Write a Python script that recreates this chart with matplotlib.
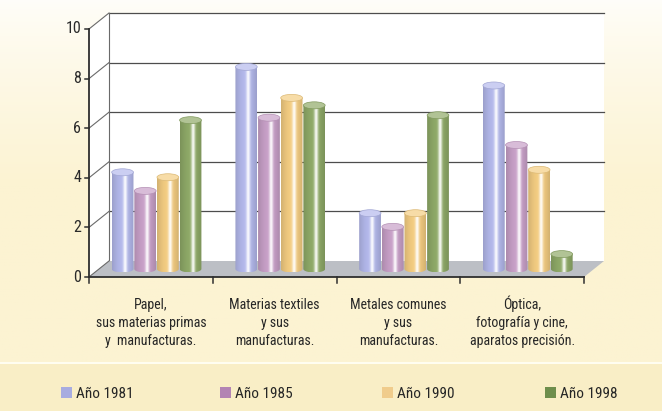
import numpy as np
import matplotlib
matplotlib.use("Agg")
import matplotlib.pyplot as plt
from matplotlib.patches import Ellipse, PathPatch, Polygon, Rectangle
from matplotlib.path import Path
from matplotlib.colors import to_rgb

plt.rcParams['font.family'] = ['Roboto Condensed', 'DejaVu Sans Condensed',
                               'Liberation Sans Narrow', 'Liberation Sans', 'DejaVu Sans']

# datos
categorias = ["Papel,\nsus materias primas\ny  manufacturas.",
              "Materias textiles\ny sus\nmanufacturas.",
              "Metales comunes\ny sus\nmanufacturas.",
              "Óptica,\nfotografía y cine,\naparatos precisión."]
series = ["Año 1981", "Año 1985", "Año 1990", "Año 1998"]
v1981 = [3.9, 8.15, 2.25, 7.4]
v1985 = [3.15, 6.1, 1.7, 5.0]
v1990 = [3.7, 6.9, 2.25, 4.0]
v1998 = [6.0, 6.6, 6.2, 0.6]
valores = [v1981, v1985, v1990, v1998]
yticks = [0, 2, 4, 6, 8, 10]

col_barra = ["#b4b9ec", "#c8a0c8", "#f4cd82", "#8faa68"]
col_leyenda = ["#a8ace0", "#b384b3", "#f0cc8c", "#6e8e4c"]

W, H = 662, 411
fig = plt.figure(figsize=(W / 100, H / 100), dpi=100)
fig.patch.set_facecolor("#fcf3d2")

# fondo: degradado claro arriba, franja de leyenda abajo
bg = fig.add_axes([0, 0, 1, 1], zorder=-10)
bg.set_xlim(0, 1)
bg.set_ylim(0, 1)
bg.axis("off")
g = np.linspace(0, 1, 256)[:, None]
top_c = np.array(to_rgb("#fffefa"))
bot_c = np.array(to_rgb("#fcf3d2"))
mix = np.clip(g / 0.45, 0, 1) ** 0.8
grad = top_c[None, None, :] * (1 - mix[..., None]) + bot_c[None, None, :] * mix[..., None]
bg.imshow(np.repeat(grad, 4, axis=1), extent=(0, 1, 0, 1), aspect="auto", origin="upper")
bg.add_patch(Rectangle((0, 0), 1, (H - 364) / H, color="#f9eec6", lw=0))
bg.add_patch(Rectangle((0, (H - 364) / H), 1, 2.5 / H, color="#fffdf0", lw=0))

# ejes principales (plano medio de profundidad)
px_x, px_y = 123.75, 24.8
x0, x1, y0, y1 = -0.75, 3.75, -1.0, 10.8
left_px = 99 + (x0 + 0.5) * px_x
zero_px = 269
ax = fig.add_axes([left_px / W, (H - (zero_px - y0 * px_y)) / H,
                   (x1 - x0) * px_x / W, (y1 - y0) * px_y / H])
PX, PY = 1 / px_x, 1 / px_y
DX, DY = 10 * PX, 8 * PY
ncat = len(categorias)
xa, xb = -0.5, ncat - 0.5

# pared del fondo, pared izquierda y suelo
ax.add_patch(Polygon([(xa + DX, DY), (xb + DX, DY), (xb + DX, 10 + DY), (xa + DX, 10 + DY)],
                     facecolor="white", edgecolor="none", zorder=1))
ax.add_patch(Polygon([(xa - DX, -DY), (xa + DX, DY), (xa + DX, 10 + DY), (xa - DX, 10 - DY)],
                     facecolor="white", edgecolor="none", zorder=1))
ax.add_patch(Polygon([(xa - DX, -DY), (xb - DX, -DY), (xb + DX, DY), (xa + DX, DY)],
                     facecolor="#bcbfc5", edgecolor="none", zorder=2))
for v in yticks[1:]:
    ax.plot([xa + DX, xb + DX], [v + DY, v + DY], color="#4d4d4d", lw=0.9, zorder=1.5)
    ax.plot([xa - DX, xa + DX], [v - DY, v + DY], color="#6a6a6a", lw=0.8, zorder=1.5)
ax.plot([xa + DX, xa + DX], [DY, 10 + DY], color="#6a6a6a", lw=0.8, zorder=1.5)
ax.plot([xa - DX, xa + DX], [-DY, DY], color="#6a6a6a", lw=0.8, zorder=2.5)

# eje frontal
ax.plot([xa - DX, xa - DX], [-DY, 10 - DY], color="#2e2e2e", lw=1.3, zorder=6)
ax.plot([xa - DX, xb - DX], [-DY, -DY], color="#2e2e2e", lw=1.3, zorder=6)
for v in yticks:
    ax.plot([xa - DX - 4 * PX, xa - DX], [v - DY, v - DY], color="#2e2e2e", lw=1.1, zorder=6)
    ax.text(xa - DX - 8 * PX, v - DY, str(v), ha="right", va="center",
            fontsize=11.5, color="#2a2a2a")
for k in range(ncat + 1):
    xt = xa + k - DX
    ax.plot([xt, xt], [-DY, -DY - 6 * PY], color="#2e2e2e", lw=1.1, zorder=6)
# etiquetas de categoría, una línea cada vez para alinear las líneas base
for i, cat in enumerate(categorias):
    for n, linea in enumerate(cat.split("\n")):
        ax.text(i - DX, -DY - (32 + 18 * n) * PY, linea, ha="center", va="baseline",
                fontsize=10, color="#262626")

# cilindros
paso, ancho, desp = 0.183, 0.176, -0.035
eb = 3.5 * PY   # semieje vertical de la elipse
t = np.linspace(0, 1, 200)
sombra = 0.86 + 0.14 * np.sin(np.pi * t)
brillo = 0.92 * np.exp(-((t - 0.6) / 0.09) ** 2)
ang = np.linspace(np.pi, 2 * np.pi, 40)
for j, vals in enumerate(valores):
    base = np.array(to_rgb(col_barra[j]))
    fila = base[None, :] * sombra[:, None]
    fila = fila * (1 - brillo[:, None]) + brillo[:, None]
    img = np.clip(fila, 0, 1)[None, :, :]
    for i, h in enumerate(vals):
        xc = i + (j - 1.5) * paso + desp
        a = ancho / 2
        verts = [(xc - a, h), (xc - a, 0)]
        verts += list(zip(xc + a * np.cos(ang), eb * np.sin(ang)))
        verts += [(xc + a, 0), (xc + a, h), (xc - a, h)]
        codes = [Path.MOVETO] + [Path.LINETO] * (len(verts) - 2) + [Path.CLOSEPOLY]
        clip = PathPatch(Path(verts, codes), transform=ax.transData,
                         facecolor="none", edgecolor="none")
        ax.add_patch(clip)
        im = ax.imshow(img, extent=(xc - a, xc + a, -eb, h), aspect="auto",
                       zorder=4, interpolation="bilinear")
        im.set_clip_path(clip)
        tapa = base * 0.7 + 0.3
        ax.add_patch(Ellipse((xc, h), ancho, 2 * eb, facecolor=tapa,
                             edgecolor=base * 0.9, lw=0.5, zorder=4.5))

ax.set_xlim(x0, x1)
ax.set_ylim(y0, y1)
ax.axis("off")

# leyenda
ley_x = [61, 220, 382, 545]
for j, nombre in enumerate(series):
    fig.add_artist(Rectangle((ley_x[j] / W, (H - 398) / H), 11 / W, 11 / H,
                             transform=fig.transFigure, facecolor=col_leyenda[j],
                             edgecolor="none"))
    fig.text((ley_x[j] + 15) / W, (H - 398) / H, nombre, ha="left", va="baseline",
             fontsize=11, color="#262626")

fig.savefig("out.png", dpi=100, facecolor=fig.get_facecolor())
